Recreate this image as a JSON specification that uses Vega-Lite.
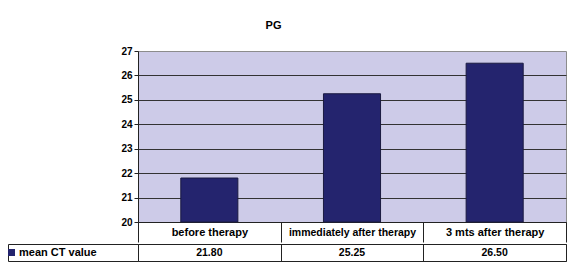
{
 "$schema": "https://vega.github.io/schema/vega-lite/v6.json",
 "background": "white",
 "padding": {"left": 6, "top": 19, "right": 3, "bottom": 10},
 "title": {"text": "PG", "fontSize": 11, "font": "Liberation Sans", "fontWeight": "bold", "anchor": "middle", "dx": -13, "offset": 15, "color": "black"},
 "config": {"font": "Liberation Sans", "view": {"stroke": null}},
 "spacing": 0,
 "datasets": {"d": [
   {"phase": "before therapy", "ct": 21.80},
   {"phase": "immediately after therapy", "ct": 25.25},
   {"phase": "3 mts after therapy", "ct": 26.50}
 ]},
 "vconcat": [
  {
   "width": 428, "height": 171,
   "data": {"name": "d"},
   "view": {"fill": "#cdcbe8", "stroke": "#8c8c8c", "strokeWidth": 1},
   "mark": {"type": "bar", "stroke": "#1a1a40", "strokeWidth": 1, "width": {"band": 0.4}},
   "encoding": {
     "x": {"field": "phase", "type": "nominal", "sort": null, "scale": {"paddingInner": 0, "paddingOuter": 0},
       "axis": {"title": null, "labelAngle": 0, "tickBand": "extent", "tickSize": 20, "tickColor": "#222", "domainColor": "#222", "labelPadding": -10, "labelBaseline": "middle", "labelFontSize": {"condition": {"test": "datum.value == 'immediately after therapy'", "value": 10.5}, "value": 11}, "labelFontWeight": "bold", "labelColor": "black", "minExtent": 20, "maxExtent": 20, "labelLimit": 200}},
     "y": {"field": "ct", "type": "quantitative", "scale": {"domain": [20, 27], "nice": false, "zero": false},
       "axis": {"title": null, "values": [20, 21, 22, 23, 24, 25, 26, 27], "tickSize": 4, "labelPadding": 2, "labelFontSize": 10, "labelFontWeight": "bold", "labelColor": "black", "domainColor": "#222", "tickColor": "#222", "gridColor": {"condition": {"test": "datum.value == 27", "value": "transparent"}, "value": "#333"}, "gridWidth": 1}},
     "y2": {"datum": 20},
     "color": {"datum": "mean CT value", "type": "nominal", "scale": {"range": ["#24246e"]},
       "legend": {"title": null, "orient": "none", "legendX": -132, "legendY": 196, "symbolType": "square", "symbolSize": 49, "symbolStrokeWidth": 0, "labelFontSize": 11, "labelFontWeight": "bold", "labelColor": "black", "padding": 0, "labelOffset": 2}}
   }
  },
  {
   "width": 428, "height": 17,
   "data": {"name": "d"},
   "view": {"stroke": "#222", "strokeWidth": 1},
   "mark": {"type": "text", "fontSize": 10.5, "fontWeight": "bold", "color": "black", "baseline": "middle"},
   "encoding": {
     "x": {"field": "phase", "type": "nominal", "sort": null, "scale": {"paddingInner": 0, "paddingOuter": 0},
       "axis": {"title": null, "labels": false, "ticks": false, "domain": false, "grid": true, "tickBand": "extent", "gridColor": "#222", "gridWidth": 1}},
     "y": {"datum": "row", "type": "nominal", "scale": {"type": "band", "paddingInner": 0, "paddingOuter": 0}, "axis": {"title": null, "labels": false, "domain": true, "domainColor": "#222", "offset": 130, "tickBand": "extent", "tickSize": -130, "tickColor": "#222"}},
     "text": {"field": "ct", "type": "quantitative", "format": ".2f"}
   }
  }
 ]
}
